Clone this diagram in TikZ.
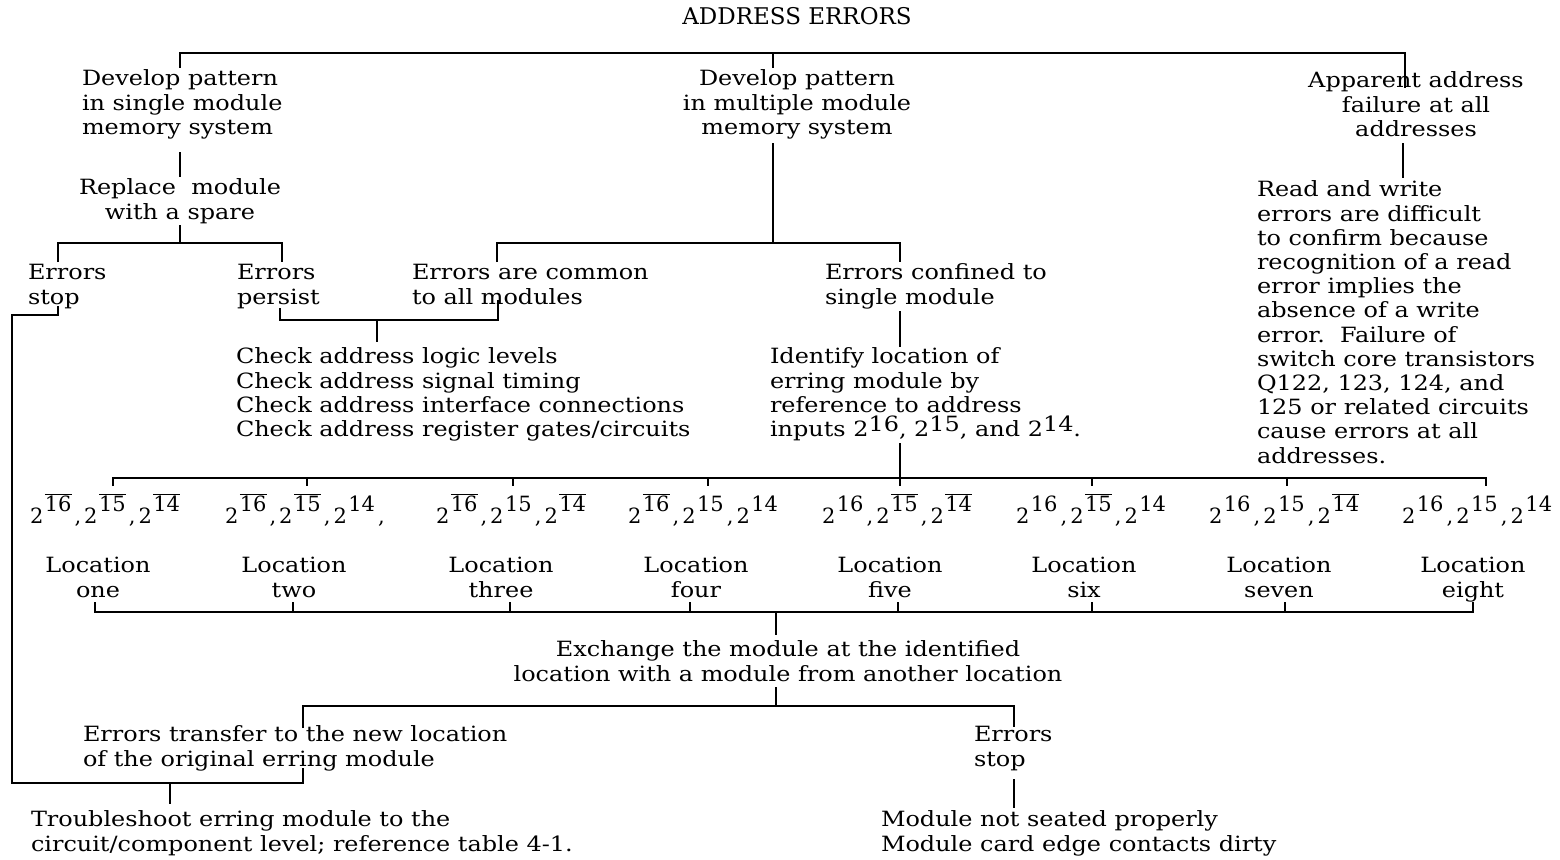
\documentclass[tikz,border=0pt]{standalone}
\usepackage{fontspec}
\setmainfont{DejaVu Serif}[FakeStretch=1.14]
\newfontfamily\plainfont{DejaVu Serif}
\newcommand\bodyfont{\fontsize{21}{24.2}\selectfont}
\newcommand\tw[1]{2\kern1.5pt\raisebox{12pt}{#1}}
\newcommand\ov[1]{$\overline{\hbox{#1}}$}
\newcommand\cm{\kern3pt,\kern3pt}
\tikzset{
  lt/.style={inner sep=0pt, outer sep=0pt, align=left, anchor=north west, font=\bodyfont},
  ct/.style={inner sep=0pt, outer sep=0pt, align=center, anchor=north, font=\bodyfont},
  ex/.style={inner sep=0pt, outer sep=0pt, anchor=base west, font=\plainfont\bodyfont},
  ttl/.style={inner sep=0pt, anchor=base, font=\plainfont\fontsize{23}{26}\selectfont},
  con/.style={line width=1.6pt, line cap=butt, line join=miter}
}
\begin{document}
\begin{tikzpicture}[x=1pt,y=-1pt]
\useasboundingbox (0,0) rectangle (1560,859);
% title
\node[ttl] (title) at (797,25) {ADDRESS ERRORS};
% first level
\node[lt] (a1) at (82,69) {\strut Develop pattern\\in single module\\memory system};
\node[ct] (a2) at (797,69) {\strut Develop pattern\\in multiple module\\memory system};
\node[ct] (a3) at (1416,71) {\strut Apparent address\\failure at all\\addresses};
\node[ct] (rep) at (180,178) {\strut Replace\ \ module\\with a spare};
\node[lt] (stop1) at (28,263) {\strut Errors\\stop};
\node[lt] (persist) at (237,263) {\strut Errors\\persist};
\node[lt] (common) at (412,263) {\strut Errors are common\\to all modules};
\node[lt] (confined) at (825,263) {\strut Errors confined to\\single module};
\node[lt] (check) at (236,347) {\strut Check address logic levels\\Check address signal timing\\Check address interface connections\\Check address register gates/circuits};
\node[lt] (ident) at (770,347) {\strut Identify location of\\erring module by\\reference to address\\inputs 2\raisebox{5pt}{16}, 2\raisebox{5pt}{15}, and 2\raisebox{5pt}{14}.};
\node[lt] (rw) at (1257,180) {\strut Read and write\\errors are difficult\\to confirm because\\recognition of a read\\error implies the\\absence of a write\\error.\ \ Failure of\\switch core transistors\\Q122, 123, 124, and\\125 or related circuits\\cause errors at all\\addresses.};
% address combinations
\node[ex] (ex1) at (30,523) {\tw{\ov{16}}\cm\tw{\ov{15}}\cm\tw{\ov{14}}};
\node[ex] (ex2) at (225,523) {\tw{\ov{16}}\cm\tw{\ov{15}}\cm\tw{14}\cm};
\node[ex] (ex3) at (436,523) {\tw{\ov{16}}\cm\tw{15}\cm\tw{\ov{14}}};
\node[ex] (ex4) at (628,523) {\tw{\ov{16}}\cm\tw{15}\cm\tw{14}};
\node[ex] (ex5) at (822,523) {\tw{16}\cm\tw{\ov{15}}\cm\tw{\ov{14}}};
\node[ex] (ex6) at (1016,523) {\tw{16}\cm\tw{\ov{15}}\cm\tw{14}};
\node[ex] (ex7) at (1209,523) {\tw{16}\cm\tw{15}\cm\tw{\ov{14}}};
\node[ex] (ex8) at (1402,523) {\tw{16}\cm\tw{15}\cm\tw{14}};
% locations
\node[ct] (l1) at (98,556) {\strut Location\\one};
\node[ct] (l2) at (294,556) {\strut Location\\two};
\node[ct] (l3) at (501,556) {\strut Location\\three};
\node[ct] (l4) at (696,556) {\strut Location\\four};
\node[ct] (l5) at (890,556) {\strut Location\\five};
\node[ct] (l6) at (1084,556) {\strut Location\\six};
\node[ct] (l7) at (1279,556) {\strut Location\\seven};
\node[ct] (l8) at (1473,556) {\strut Location\\eight};
% lower part
\node[ct] (exch) at (788,640) {\strut Exchange the module at the identified\\location with a module from another location};
\node[lt] (transfer) at (83,725) {\strut Errors transfer to the new location\\of the original erring module};
\node[lt] (stop2) at (974,725) {\strut Errors\\stop};
\node[lt] (trouble) at (31,810) {\strut Troubleshoot erring module to the\\circuit/component level; reference table 4-1.};
\node[lt] (seat) at (881,810) {\strut Module not seated properly\\Module card edge contacts dirty};

% junction coordinates
\coordinate (a1in) at (180,68);   \coordinate (tA) at (180,53);
\coordinate (tB) at (773,53);     \coordinate (a2in) at (773,68);
\coordinate (tC) at (1405,53);    \coordinate (a3in) at (1405,88);
\coordinate (a1out) at (180,152); \coordinate (repin) at (180,177);
\coordinate (repout) at (180,225);\coordinate (rj) at (180,243);
\coordinate (s1in) at (58,262);   \coordinate (s1j) at (58,243);
\coordinate (pin) at (282,262);   \coordinate (pj) at (282,243);
\coordinate (a2out) at (773,143); \coordinate (mj) at (773,243);
\coordinate (cin) at (497,262);   \coordinate (cj) at (497,243);
\coordinate (fin) at (900,262);   \coordinate (fj) at (900,243);
\coordinate (pout) at (280,308);  \coordinate (pb) at (280,320);
\coordinate (cout) at (498,300);  \coordinate (cb) at (498,320);
\coordinate (bj) at (377,320);    \coordinate (chin) at (377,342);
\coordinate (fout) at (900,311);  \coordinate (idin) at (900,347);
\coordinate (idout) at (900,443); \coordinate (e5) at (900,478);
\coordinate (a3out) at (1403,143);\coordinate (rwin) at (1403,178);
\coordinate (s1out) at (58,306);  \coordinate (s1b) at (58,315);
\coordinate (lk1) at (12,315);    \coordinate (lk2) at (12,783);
\coordinate (lk3) at (303,783);   \coordinate (trout) at (303,768);
\coordinate (lkj) at (170,783);   \coordinate (tbin) at (170,804);
\coordinate (exj) at (776,612);   \coordinate (exin) at (776,635);
\coordinate (exout) at (776,687); \coordinate (xj) at (776,706);
\coordinate (trin) at (303,728);  \coordinate (trj) at (303,706);
\coordinate (st2in) at (1014,727);\coordinate (st2j) at (1014,706);
\coordinate (st2out) at (1014,779);\coordinate (sein) at (1014,808);

\begin{scope}[con]
\draw (a1in) -- (tA) -- (tC) -- (a3in);
\draw (tB) -- (a2in);
\draw (a1out) -- (repin);
\draw (repout) -- (rj);
\draw (s1in) -- (s1j) -- (pj) -- (pin);
\draw (a2out) -- (mj);
\draw (cin) -- (cj) -- (fj) -- (fin);
\draw (pout) -- (pb) -- (cb) -- (cout);
\draw (bj) -- (chin);
\draw (fout) -- (idin);
\draw (idout) -- (e5) -- ++(0,8);
\draw (a3out) -- (rwin);
% bar above address combinations
\draw (113,486) -- (113,478) -- (1486,478) -- (1486,486);
\foreach \x in {307,513,708,1092,1287} \draw (\x,478) -- (\x,486);
% bar below locations
\draw (95,602) -- (95,612) -- (1473,612) -- (1473,602);
\foreach \x in {293,510,690,898,1092,1285} \draw (\x,612) -- (\x,602);
\draw (exj) -- (exin);
\draw (exout) -- (xj);
\draw (trin) -- (trj) -- (st2j) -- (st2in);
\draw (st2out) -- (sein);
% loop back
\draw (s1out) -- (s1b) -- (lk1) -- (lk2) -- (lk3) -- (trout);
\draw (lkj) -- (tbin);
\end{scope}
\end{tikzpicture}
\end{document}
